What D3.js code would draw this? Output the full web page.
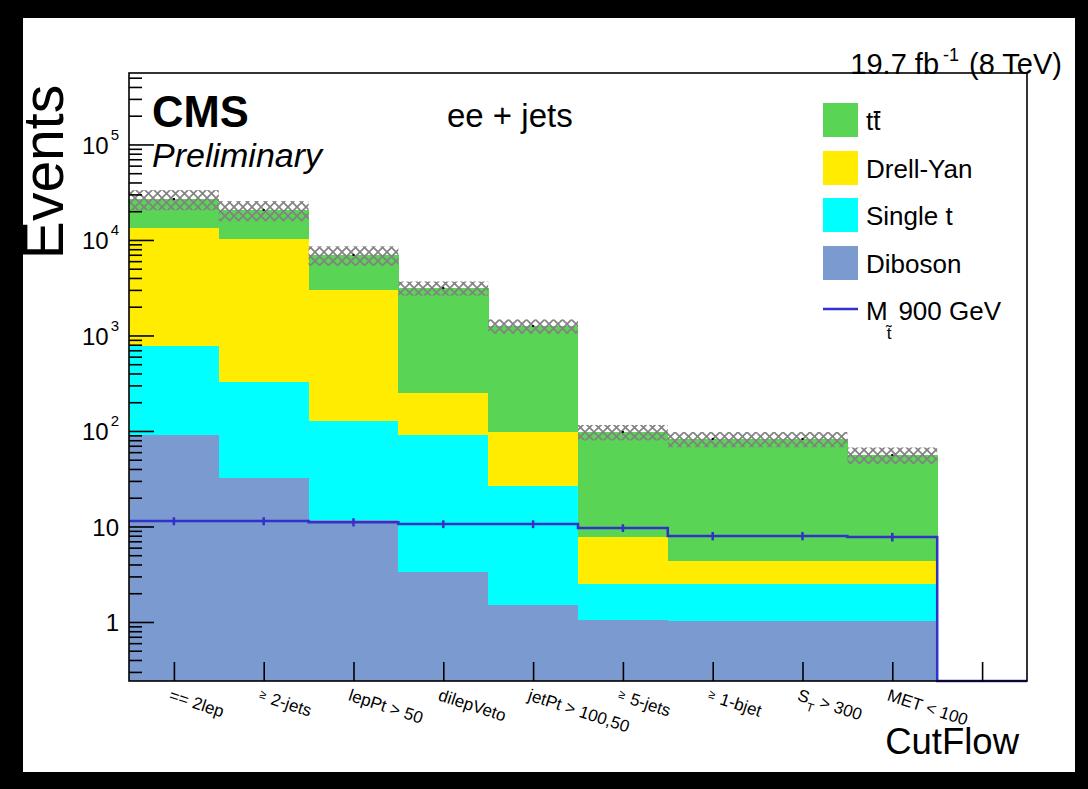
<!DOCTYPE html>
<html>
<head>
<meta charset="utf-8">
<script src="https://cdn.jsdelivr.net/npm/d3@7"></script>
<style>
  body { margin: 0; background: #000; }
  svg { display: block; }
  text { font-family: "Liberation Sans", Arial, Helvetica, sans-serif; fill: #000; }
</style>
</head>
<body>
<svg id="chart" width="1088" height="789"></svg>
<script>
// Cut-flow selection steps (last bin is an empty overflow-style bin)
const cuts = ["== 2lep", "\u2265 2-jets", "lepPt > 50", "dilepVeto", "jetPt > 100,50",
              "\u2265 5-jets", "\u2265 1-bjet", "S_T > 300", "MET < 100", ""];

// Background yields per cut (ee + jets channel)
const diboson   = [91,    32.2,  11.7,  3.34, 1.51, 1.05, 1.02, 1.02, 1.02, 0];
const singleTop = [686,   294,   115,   88,   25,   1.45, 1.48, 1.48, 1.48, 0];
const drellYan  = [12580, 9914,  2868,  159,  71,   5.27, 1.85, 1.85, 1.85, 0];
const ttbar     = [13510, 10360, 3975,  2893, 1159, 89.8, 78.2, 78.2, 51.8, 0];

// Total background uncertainty per cut
const bkgUnc    = [6400, 4900, 1600, 530, 215, 18, 15, 15, 11, 0];

// Signal: stop mass 900 GeV, with its uncertainty
const signal    = [11.4, 11.4, 11.1, 10.6, 10.6, 9.65, 7.96, 7.96, 7.77, 0];
const signalUnc = [1.1,  1.1,  1.1,  1.0,  1.0,  0.9,  0.8,  0.8,  0.8,  0];

// Axis decades with labels
const yTickValues = [1, 10, 100, 1000, 10000, 100000];
const yTickExp    = [null, null, 2, 3, 4, 5];

const legendItems = [
  { key: "ttbar",     label: "tt" },
  { key: "drellYan",  label: "Drell-Yan" },
  { key: "singleTop", label: "Single t" },
  { key: "diboson",   label: "Diboson" }
];

const colors = {
  ttbar: "#59d454",
  drellYan: "#ffec00",
  singleTop: "#00ffff",
  diboson: "#7b9ad0",
  signal: "#3232c8"
};

const W = 1088, H = 789;
const frame = { l: 129, r: 1027, t: 73, b: 681 };
const yMin = 0.241, yMax = 5.6e5;

const svg = d3.select("#chart");

// canvas: black border around white page
svg.append("rect").attr("width", W).attr("height", H).attr("fill", "#000");
svg.append("rect").attr("x", 23).attr("y", 18).attr("width", 1052).attr("height", 754).attr("fill", "#fff");

const defs = svg.append("defs");
defs.append("clipPath").attr("id", "plotclip")
  .append("rect").attr("x", frame.l).attr("y", frame.t)
  .attr("width", frame.r - frame.l).attr("height", frame.b - frame.t);
const pat = defs.append("pattern").attr("id", "hatch")
  .attr("patternUnits", "userSpaceOnUse").attr("width", 9).attr("height", 9);
pat.append("path").attr("d", "M0,0L9,9M9,0L0,9")
  .attr("stroke", "#828282").attr("stroke-width", 1.7).attr("fill", "none");

const nBins = cuts.length;
const x = d3.scaleLinear().domain([0, nBins]).range([frame.l, frame.r]);
const y = d3.scaleLog().domain([yMin, yMax]).range([frame.b, frame.t]);
const yc = v => (v > yMin ? y(v) : frame.b);

// stacked backgrounds
const keys = ["diboson", "singleTop", "drellYan", "ttbar"];
const table = cuts.map((c, i) => ({
  diboson: diboson[i], singleTop: singleTop[i], drellYan: drellYan[i], ttbar: ttbar[i]
}));
const series = d3.stack().keys(keys)(table);

const plot = svg.append("g").attr("clip-path", "url(#plotclip)");

series.forEach(layer => {
  plot.append("g").selectAll("rect")
    .data(layer.map((d, i) => ({ lo: d[0], hi: d[1], i })).filter(d => d.hi > d.lo && d.hi > 0))
    .join("rect")
    .attr("x", d => x(d.i))
    .attr("width", d => x(d.i + 1) - x(d.i) + 0.4)
    .attr("y", d => yc(d.hi))
    .attr("height", d => yc(d.lo) - yc(d.hi))
    .attr("fill", colors[layer.key])
    .attr("shape-rendering", "crispEdges");
});

// total background with uncertainty band
const totals = table.map(d => keys.reduce((s, k) => s + d[k], 0));
const bandData = totals.map((t, i) => ({ t, e: bkgUnc[i], i })).filter(d => d.t > 0);
plot.append("g").selectAll("rect")
  .data(bandData)
  .join("rect")
  .attr("x", d => x(d.i))
  .attr("width", d => x(d.i + 1) - x(d.i))
  .attr("y", d => yc(d.t + d.e))
  .attr("height", d => yc(d.t - d.e) - yc(d.t + d.e))
  .attr("fill", "url(#hatch)");
plot.append("g").selectAll("rect")
  .data(bandData)
  .join("rect")
  .attr("x", d => x(d.i + 0.5) - 1)
  .attr("y", d => yc(d.t) - 1)
  .attr("width", 2).attr("height", 2)
  .attr("fill", "#000");

// signal histogram as a step line
const stepPts = signal.map((v, i) => [x(i), yc(v)]);
stepPts.push([x(nBins), yc(signal[nBins - 1])]);
svg.append("path")
  .attr("d", d3.line().curve(d3.curveStepAfter)(stepPts))
  .attr("fill", "none")
  .attr("stroke", colors.signal)
  .attr("stroke-width", 2.5);
svg.append("g").selectAll("line")
  .data(signal.map((v, i) => ({ v, e: signalUnc[i], i })).filter(d => d.v > 0))
  .join("line")
  .attr("x1", d => x(d.i + 0.5)).attr("x2", d => x(d.i + 0.5))
  .attr("y1", d => yc(d.v + d.e)).attr("y2", d => yc(d.v - d.e))
  .attr("stroke", colors.signal).attr("stroke-width", 2.5);

// y axis: major and minor ticks pointing inward
const minorTicks = [];
for (let dec = 0.1; dec <= 1e5; dec *= 10) {
  for (let m = 2; m <= 9; m++) {
    const v = dec * m;
    if (v > yMin && v < yMax) minorTicks.push(v);
  }
}
const gyMinor = svg.append("g").attr("transform", `translate(${frame.l},0)`)
  .call(d3.axisLeft(y).tickValues(minorTicks).tickSize(-13).tickFormat(""));
const gyMajor = svg.append("g").attr("transform", `translate(${frame.l},0)`)
  .call(d3.axisLeft(y).tickValues(yTickValues).tickSize(-25).tickFormat(""));
[gyMinor, gyMajor].forEach(g => {
  g.select(".domain").remove();
  g.selectAll("line").attr("stroke", "#000").attr("stroke-width", 1.6);
});

// y tick labels
yTickValues.forEach((v, k) => {
  const t = svg.append("text")
    .attr("x", 119).attr("y", y(v) + 9.5)
    .attr("text-anchor", "end").attr("font-size", 24);
  if (yTickExp[k] === null) {
    t.text(String(v));
  } else {
    t.append("tspan").text("10");
    t.append("tspan").attr("font-size", 15).attr("dy", -14).attr("dx", 2).text(String(yTickExp[k]));
  }
});

// x axis ticks at bin centers
const gx = svg.append("g").attr("transform", `translate(0,${frame.b})`)
  .call(d3.axisBottom(x).tickValues(d3.range(nBins).map(i => i + 0.5)).tickSize(-19).tickFormat(""));
gx.select(".domain").remove();
gx.selectAll("line").attr("stroke", "#000").attr("stroke-width", 1.6);

// rotated cut labels
cuts.forEach((c, i) => {
  if (!c) return;
  const t = svg.append("text")
    .attr("transform", `translate(${x(i + 0.5) - 6},700) rotate(18)`)
    .attr("font-size", 17);
  if (c.startsWith("\u2265")) {
    t.append("tspan").attr("font-size", 12).attr("dy", -3).text("\u2265");
    t.append("tspan").attr("dy", 3).attr("dx", 6).text(c.slice(1).trim());
  } else if (c.includes("_")) {
    const [base, rest] = c.split("_");
    t.append("tspan").text(base);
    t.append("tspan").attr("font-size", 12).attr("dy", 7).text(rest[0]);
    t.append("tspan").attr("dy", -7).text(rest.slice(1));
  } else {
    t.text(c);
  }
});

// frame
svg.append("rect")
  .attr("x", frame.l).attr("y", frame.t)
  .attr("width", frame.r - frame.l).attr("height", frame.b - frame.t)
  .attr("fill", "none").attr("stroke", "#000").attr("stroke-width", 1.6);

// titles
svg.append("text")
  .attr("transform", "translate(63,172) rotate(-90)")
  .attr("text-anchor", "middle").attr("font-size", 57)
  .text("Events");

svg.append("text")
  .attr("x", 1019).attr("y", 754)
  .attr("text-anchor", "end").attr("font-size", 36.5)
  .text("CutFlow");

svg.append("text")
  .attr("x", 152).attr("y", 127)
  .attr("font-size", 43.5).attr("font-weight", "bold")
  .text("CMS");

svg.append("text")
  .attr("x", 152).attr("y", 167)
  .attr("font-size", 34).attr("font-style", "italic")
  .text("Preliminary");

svg.append("text")
  .attr("x", 447).attr("y", 127)
  .attr("font-size", 33)
  .text("ee + jets");

const lumi = svg.append("text")
  .attr("x", 1062).attr("y", 74)
  .attr("text-anchor", "end").attr("font-size", 29);
lumi.append("tspan").text("19.7 fb");
lumi.append("tspan").attr("font-size", 18).attr("dy", -13).attr("dx", 4).text("-1");
lumi.append("tspan").attr("dy", 13).attr("dx", 10).text("(8 TeV)");

// legend
const legX = 823, boxW = 35, boxH = 34, textX = 866;
const rowY = [120, 168, 215, 263, 309];
legendItems.forEach((it, k) => {
  svg.append("rect")
    .attr("x", legX).attr("y", rowY[k] - boxH / 2)
    .attr("width", boxW).attr("height", boxH)
    .attr("fill", colors[it.key]);
  const t = svg.append("text")
    .attr("x", textX).attr("y", rowY[k] + 10)
    .attr("font-size", 26)
    .text(it.label);
  if (it.key === "ttbar") {
    const w = t.node().getComputedTextLength();
    svg.append("line")
      .attr("x1", textX + w / 2 + 0.5).attr("x2", textX + w)
      .attr("y1", rowY[k] - 8).attr("y2", rowY[k] - 8)
      .attr("stroke", "#000").attr("stroke-width", 2);
  }
});
svg.append("line")
  .attr("x1", legX).attr("x2", legX + boxW)
  .attr("y1", rowY[4]).attr("y2", rowY[4])
  .attr("stroke", colors.signal).attr("stroke-width", 2.5);
const sigLabel = svg.append("text").attr("x", textX).attr("y", rowY[4] + 11).attr("font-size", 26);
sigLabel.append("tspan").text("M");
sigLabel.append("tspan").attr("font-size", 17).attr("dy", 19).attr("dx", -1).text("t\u0303");
sigLabel.append("tspan").attr("dy", -19).attr("dx", 7).text("900 GeV");
</script>
</body>
</html>
